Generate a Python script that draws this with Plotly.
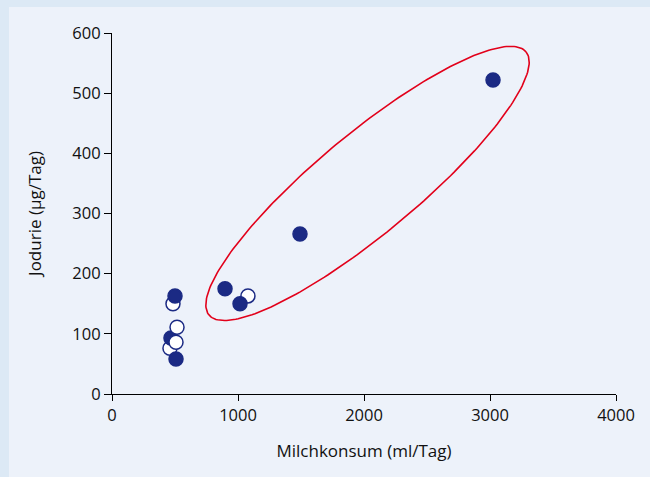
import numpy as np
import plotly.graph_objects as go

# ---- data ----
milk_ml = [460, 468, 508, 516, 484, 500, 508, 1079, 1016, 897, 1492, 3024]
iodine_ug = [76, 93, 86, 111, 150, 163, 58, 163, 150, 175, 266, 522]
marker_type = ["open", "filled", "open", "open", "open", "filled", "filled",
               "open", "filled", "filled", "filled", "filled"]

x_ticks = [0, 1000, 2000, 3000, 4000]
y_ticks = [0, 100, 200, 300, 400, 500, 600]

# ellipse highlighting the group (data units)
ELL_CENTER = (2028, 350)
ELL_U = (1258, 218.7)
ELL_V = (-253.5, 63.9)

NAVY = "#1b2a84"
RED = "#e2001a"
OUTER = "#dce9f5"
INNER = "#edf2fa"

fig = go.Figure()

t = np.linspace(0, 2 * np.pi, 241)
ex = ELL_CENTER[0] + ELL_U[0] * np.cos(t) + ELL_V[0] * np.sin(t)
ey = ELL_CENTER[1] + ELL_U[1] * np.cos(t) + ELL_V[1] * np.sin(t)
fig.add_trace(go.Scatter(x=ex, y=ey, mode="lines",
                         line=dict(color=RED, width=1.6),
                         hoverinfo="skip", showlegend=False))

fill_colors = [NAVY if m == "filled" else "white" for m in marker_type]
fig.add_trace(go.Scatter(
    x=milk_ml, y=iodine_ug, mode="markers", showlegend=False,
    marker=dict(size=14, color=fill_colors,
                line=dict(color=NAVY, width=1.5)),
))

font_family = "Open Sans, Noto Sans, sans-serif"

fig.update_layout(
    width=650, height=477,
    margin=dict(l=112, r=34, t=33, b=83),
    paper_bgcolor=OUTER,
    plot_bgcolor=INNER,
    font=dict(family=font_family, size=14.5, color="#111111"),
    shapes=[dict(type="rect", xref="paper", yref="paper",
                 x0=-0.2044, x1=1.2, y0=-0.4, y1=1.072,
                 fillcolor=INNER, line=dict(width=0), layer="below")],
    xaxis=dict(range=[0, 4000], tickvals=x_ticks, ticks="outside",
               ticklen=6, tickwidth=1.2, tickcolor="black",
               showline=True, linecolor="black", linewidth=1.2,
               showgrid=False, zeroline=False,
               title=dict(text="Milchkonsum (ml/Tag)", standoff=20),
               tickfont=dict(size=16.5)),
    yaxis=dict(range=[0, 600], tickvals=y_ticks, ticks="outside",
               ticklen=7, tickwidth=1.2, tickcolor="black",
               showline=True, linecolor="black", linewidth=1.2,
               showgrid=False, zeroline=False,
               title=dict(text="Jodurie (µg/Tag)", standoff=26),
               tickfont=dict(size=16.5)),
)

fig.write_html("out.html",
               config={"displayModeBar": False},
               post_script="document.body.style.margin='0';"
                           "document.body.style.overflow='hidden';")
